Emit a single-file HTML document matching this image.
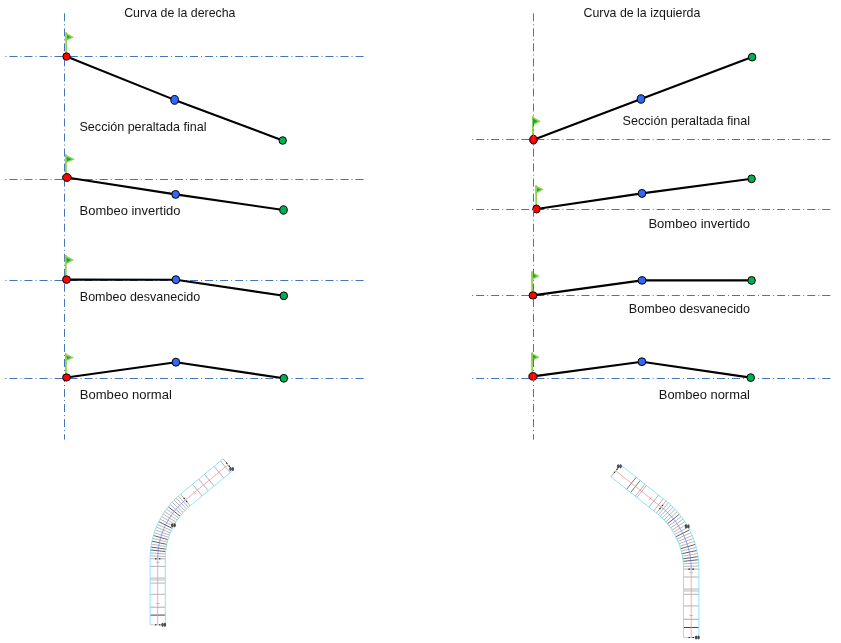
<!DOCTYPE html>
<html><head><meta charset="utf-8"><title>Peralte</title>
<style>
html,body{margin:0;padding:0;background:#fff;}
body{width:841px;height:643px;overflow:hidden;font-family:"Liberation Sans",sans-serif;}
svg{display:block;}
text{font-family:"Liberation Sans",sans-serif;fill:#151515;}
.tx{opacity:0.999;}
</style></head><body>
<svg width="841" height="643" viewBox="0 0 841 643">
<defs><filter id="bl" x="-5%" y="-5%" width="110%" height="110%"><feGaussianBlur stdDeviation="0.35"/></filter></defs>
<rect width="841" height="643" fill="#fff"/>
<line x1="64.5" y1="13.3" x2="64.5" y2="439.6" stroke="#4574BD" stroke-width="1" stroke-dasharray="8 3.01 1 3.02"/>
<line x1="363.6" y1="56.5" x2="5" y2="56.5" stroke="#4574BD" stroke-width="1" stroke-dasharray="8.03 3.01 1 3.01"/>
<line x1="363.6" y1="179.5" x2="5" y2="179.5" stroke="#4574BD" stroke-width="1" stroke-dasharray="8.03 3.01 1 3.01"/>
<line x1="363.6" y1="280.5" x2="5" y2="280.5" stroke="#4574BD" stroke-width="1" stroke-dasharray="8.03 3.01 1 3.01"/>
<line x1="363.6" y1="378.5" x2="5" y2="378.5" stroke="#4574BD" stroke-width="1" stroke-dasharray="8.03 3.01 1 3.01"/>
<rect x="65.30" y="32.30" width="1.8" height="24.20" fill="#92D050"/><path d="M65.30 32.30 L74.00 37.20 L65.30 41.20 Z" fill="#92D050"/><path d="M67.10 35.00 L70.90 37.20 L67.10 38.80 Z" fill="#00B050"/>
<polyline points="66.5,56.5 174.6,99.9 282.7,140.5" fill="none" stroke="#000" stroke-width="2.1" stroke-linejoin="round"/>
<ellipse cx="66.5" cy="56.5" rx="3.7" ry="3.7" fill="#FF0000" stroke="#000" stroke-width="1.0"/>
<ellipse cx="174.6" cy="99.9" rx="3.8" ry="4.4" fill="#3366FF" stroke="#000" stroke-width="1.0"/>
<ellipse cx="282.7" cy="140.5" rx="3.7" ry="3.8" fill="#00B050" stroke="#000" stroke-width="1.0"/>
<rect x="65.05" y="154.30" width="1.8" height="23.20" fill="#92D050"/><path d="M65.05 154.30 L74.90 159.20 L65.05 163.60 Z" fill="#92D050"/><path d="M66.85 157.00 L71.80 159.20 L66.85 161.20 Z" fill="#00B050"/>
<polyline points="66.9,177.5 175.6,194.4 283.5,210.0" fill="none" stroke="#000" stroke-width="2.1" stroke-linejoin="round"/>
<ellipse cx="66.9" cy="177.5" rx="4.35" ry="3.9000000000000004" fill="#FF0000" stroke="#000" stroke-width="1.0"/>
<ellipse cx="175.6" cy="194.4" rx="3.8499999999999996" ry="3.95" fill="#3366FF" stroke="#000" stroke-width="1.0"/>
<ellipse cx="283.5" cy="210.0" rx="3.75" ry="4.15" fill="#00B050" stroke="#000" stroke-width="1.0"/>
<rect x="64.90" y="255.10" width="1.8" height="24.50" fill="#92D050"/><path d="M64.90 255.10 L74.10 260.10 L64.90 264.80 Z" fill="#92D050"/><path d="M66.70 257.80 L71.00 260.10 L66.70 262.40 Z" fill="#00B050"/>
<polyline points="66.5,279.6 175.9,279.7 283.8,295.8" fill="none" stroke="#000" stroke-width="2.1" stroke-linejoin="round"/>
<ellipse cx="66.5" cy="279.6" rx="3.95" ry="3.8" fill="#FF0000" stroke="#000" stroke-width="1.0"/>
<ellipse cx="175.9" cy="279.7" rx="3.8" ry="4.0" fill="#3366FF" stroke="#000" stroke-width="1.0"/>
<ellipse cx="283.8" cy="295.8" rx="3.75" ry="3.9000000000000004" fill="#00B050" stroke="#000" stroke-width="1.0"/>
<rect x="65.00" y="353.20" width="1.8" height="24.25" fill="#92D050"/><path d="M65.00 353.20 L74.00 357.50 L65.00 361.70 Z" fill="#92D050"/><path d="M66.80 355.90 L70.90 357.50 L66.80 359.30 Z" fill="#00B050"/>
<polyline points="66.5,377.45 175.9,362.2 283.8,378.3" fill="none" stroke="#000" stroke-width="2.1" stroke-linejoin="round"/>
<ellipse cx="66.5" cy="377.45" rx="3.95" ry="3.5999999999999996" fill="#FF0000" stroke="#000" stroke-width="1.0"/>
<ellipse cx="175.9" cy="362.2" rx="3.8" ry="4.0" fill="#3366FF" stroke="#000" stroke-width="1.0"/>
<ellipse cx="283.8" cy="378.3" rx="3.75" ry="3.9000000000000004" fill="#00B050" stroke="#000" stroke-width="1.0"/>
<line x1="830.3" y1="139.5" x2="472" y2="139.5" stroke="#4574BD" stroke-width="1" stroke-dasharray="8.03 3.01 1 3.01"/>
<line x1="830.3" y1="209.5" x2="472" y2="209.5" stroke="#4574BD" stroke-width="1" stroke-dasharray="8.03 3.01 1 3.01"/>
<line x1="830.3" y1="295.5" x2="472" y2="295.5" stroke="#4574BD" stroke-width="1" stroke-dasharray="8.03 3.01 1 3.01"/>
<line x1="830.3" y1="378.5" x2="472" y2="378.5" stroke="#4574BD" stroke-width="1" stroke-dasharray="8.03 3.01 1 3.01"/>
<rect x="532.00" y="116.20" width="1.8" height="23.50" fill="#92D050"/><path d="M532.00 116.20 L540.90 121.30 L532.00 126.00 Z" fill="#92D050"/><path d="M533.80 118.90 L537.80 121.30 L533.80 123.60 Z" fill="#00B050"/>
<polyline points="533.5,139.7 641.0,99.0 752.1,57.1" fill="none" stroke="#000" stroke-width="2.1" stroke-linejoin="round"/>
<ellipse cx="533.5" cy="139.7" rx="3.8499999999999996" ry="4.4" fill="#FF0000" stroke="#000" stroke-width="1.0"/>
<ellipse cx="641.0" cy="99.0" rx="3.8" ry="4.2" fill="#3366FF" stroke="#000" stroke-width="1.0"/>
<ellipse cx="752.1" cy="57.1" rx="3.75" ry="3.9000000000000004" fill="#00B050" stroke="#000" stroke-width="1.0"/>
<rect x="535.30" y="185.30" width="1.8" height="23.70" fill="#92D050"/><path d="M535.30 185.30 L543.90 189.60 L535.30 194.10 Z" fill="#92D050"/><path d="M537.10 188.00 L540.80 189.60 L537.10 191.70 Z" fill="#00B050"/>
<polyline points="536.5,209.0 642.0,193.4 751.6,178.8" fill="none" stroke="#000" stroke-width="2.1" stroke-linejoin="round"/>
<ellipse cx="536.5" cy="209.0" rx="3.7" ry="4.0" fill="#FF0000" stroke="#000" stroke-width="1.0"/>
<ellipse cx="642.0" cy="193.4" rx="3.8" ry="4.0" fill="#3366FF" stroke="#000" stroke-width="1.0"/>
<ellipse cx="751.6" cy="178.8" rx="3.75" ry="3.9000000000000004" fill="#00B050" stroke="#000" stroke-width="1.0"/>
<rect x="531.20" y="271.20" width="1.8" height="24.20" fill="#92D050"/><path d="M531.20 271.20 L539.70 276.30 L531.20 280.20 Z" fill="#92D050"/><path d="M533.00 273.90 L536.60 276.30 L533.00 277.80 Z" fill="#00B050"/>
<polyline points="533.0,295.4 642.0,280.4 751.6,280.4" fill="none" stroke="#000" stroke-width="2.1" stroke-linejoin="round"/>
<ellipse cx="533.0" cy="295.4" rx="4.0" ry="3.7" fill="#FF0000" stroke="#000" stroke-width="1.0"/>
<ellipse cx="642.0" cy="280.4" rx="4.0" ry="3.8" fill="#3366FF" stroke="#000" stroke-width="1.0"/>
<ellipse cx="751.6" cy="280.4" rx="3.75" ry="3.9000000000000004" fill="#00B050" stroke="#000" stroke-width="1.0"/>
<rect x="531.20" y="352.40" width="1.8" height="24.00" fill="#92D050"/><path d="M531.20 352.40 L539.70 357.30 L531.20 361.20 Z" fill="#92D050"/><path d="M533.00 355.10 L536.60 357.30 L533.00 358.80 Z" fill="#00B050"/>
<polyline points="533.0,376.4 641.9,361.7 750.7,377.6" fill="none" stroke="#000" stroke-width="2.1" stroke-linejoin="round"/>
<ellipse cx="533.0" cy="376.4" rx="4.15" ry="3.7" fill="#FF0000" stroke="#000" stroke-width="1.0"/>
<ellipse cx="641.9" cy="361.7" rx="3.9000000000000004" ry="3.9000000000000004" fill="#3366FF" stroke="#000" stroke-width="1.0"/>
<ellipse cx="750.7" cy="377.6" rx="3.75" ry="3.9000000000000004" fill="#00B050" stroke="#000" stroke-width="1.0"/>
<line x1="533.5" y1="13.3" x2="533.5" y2="439.6" stroke="#4574BD" stroke-width="1" stroke-dasharray="8 3.01 1 3.02"/>
<g class="tx">
<text x="124.2" y="16.7" font-size="12.6" textLength="111.3" lengthAdjust="spacingAndGlyphs" text-anchor="start">Curva de la derecha</text>
<text x="79.5" y="130.5" font-size="12.6" textLength="127" lengthAdjust="spacingAndGlyphs" text-anchor="start">Sección peraltada final</text>
<text x="79.6" y="215" font-size="12.6" textLength="100.9" lengthAdjust="spacingAndGlyphs" text-anchor="start">Bombeo invertido</text>
<text x="79.8" y="300.8" font-size="12.6" textLength="120.4" lengthAdjust="spacingAndGlyphs" text-anchor="start">Bombeo desvanecido</text>
<text x="79.8" y="398.7" font-size="12.6" textLength="92.1" lengthAdjust="spacingAndGlyphs" text-anchor="start">Bombeo normal</text>
<text x="583.5" y="16.9" font-size="12.6" textLength="116.8" lengthAdjust="spacingAndGlyphs" text-anchor="start">Curva de la izquierda</text>
<text x="622.6" y="124.8" font-size="12.6" textLength="127.4" lengthAdjust="spacingAndGlyphs" text-anchor="start">Sección peraltada final</text>
<text x="648.4" y="227.7" font-size="12.6" textLength="101.6" lengthAdjust="spacingAndGlyphs" text-anchor="start">Bombeo invertido</text>
<text x="628.8" y="313.4" font-size="12.6" textLength="121.2" lengthAdjust="spacingAndGlyphs" text-anchor="start">Bombeo desvanecido</text>
<text x="658.8" y="398.5" font-size="12.6" textLength="91.2" lengthAdjust="spacingAndGlyphs" text-anchor="start">Bombeo normal</text>
</g>
<g filter="url(#bl)">
<line x1="150.10" y1="566.40" x2="165.30" y2="566.40" stroke="#686868" stroke-width="0.5"/>
<line x1="150.10" y1="577.60" x2="165.30" y2="577.60" stroke="#b5b5b5" stroke-width="0.5"/>
<line x1="150.10" y1="578.50" x2="165.30" y2="578.50" stroke="#b5b5b5" stroke-width="0.5"/>
<line x1="150.10" y1="579.40" x2="165.30" y2="579.40" stroke="#b5b5b5" stroke-width="0.5"/>
<line x1="150.10" y1="580.30" x2="165.30" y2="580.30" stroke="#b5b5b5" stroke-width="0.5"/>
<line x1="150.10" y1="583.10" x2="165.30" y2="583.10" stroke="#686868" stroke-width="0.5"/>
<line x1="150.10" y1="594.30" x2="165.30" y2="594.30" stroke="#686868" stroke-width="0.5"/>
<line x1="150.10" y1="607.20" x2="165.30" y2="607.20" stroke="#686868" stroke-width="0.55"/>
<line x1="150.10" y1="615.10" x2="165.30" y2="615.10" stroke="#444" stroke-width="1.0"/>
<line x1="155.80" y1="562.30" x2="159.60" y2="562.30" stroke="#888" stroke-width="0.5"/>
<line x1="155.80" y1="603.60" x2="159.60" y2="603.60" stroke="#888" stroke-width="0.5"/>
<line x1="150.10" y1="558.80" x2="165.30" y2="558.80" stroke="#666" stroke-width="0.5"/>
<line x1="150.10" y1="624.80" x2="165.30" y2="624.80" stroke="#999" stroke-width="0.5"/>
<line x1="150.15" y1="555.84" x2="165.34" y2="556.38" stroke="#858585" stroke-width="0.6"/>
<line x1="150.31" y1="552.89" x2="165.47" y2="553.96" stroke="#858585" stroke-width="0.6"/>
<line x1="150.57" y1="549.95" x2="165.68" y2="551.55" stroke="#444" stroke-width="0.85"/>
<line x1="150.93" y1="547.02" x2="165.98" y2="549.15" stroke="#444" stroke-width="0.85"/>
<line x1="151.40" y1="544.10" x2="166.36" y2="546.76" stroke="#858585" stroke-width="0.6"/>
<line x1="151.96" y1="541.20" x2="166.83" y2="544.38" stroke="#444" stroke-width="0.85"/>
<line x1="152.64" y1="538.32" x2="167.38" y2="542.03" stroke="#858585" stroke-width="0.6"/>
<line x1="153.41" y1="535.47" x2="168.01" y2="539.69" stroke="#444" stroke-width="0.85"/>
<line x1="154.28" y1="532.64" x2="168.72" y2="537.38" stroke="#858585" stroke-width="0.6"/>
<line x1="155.25" y1="529.85" x2="169.52" y2="535.09" stroke="#858585" stroke-width="0.6"/>
<line x1="156.31" y1="527.09" x2="170.39" y2="532.83" stroke="#858585" stroke-width="0.6"/>
<line x1="157.48" y1="524.38" x2="171.34" y2="530.61" stroke="#858585" stroke-width="0.6"/>
<line x1="158.74" y1="521.70" x2="172.37" y2="528.42" stroke="#444" stroke-width="0.85"/>
<line x1="160.09" y1="519.07" x2="173.48" y2="526.26" stroke="#858585" stroke-width="0.6"/>
<line x1="161.53" y1="516.50" x2="174.66" y2="524.15" stroke="#858585" stroke-width="0.6"/>
<line x1="163.06" y1="513.97" x2="175.92" y2="522.08" stroke="#858585" stroke-width="0.6"/>
<line x1="164.68" y1="511.50" x2="177.25" y2="520.06" stroke="#858585" stroke-width="0.6"/>
<line x1="166.39" y1="509.09" x2="178.64" y2="518.08" stroke="#858585" stroke-width="0.6"/>
<line x1="168.18" y1="506.73" x2="180.11" y2="516.16" stroke="#444" stroke-width="0.85"/>
<line x1="170.05" y1="504.45" x2="181.64" y2="514.28" stroke="#858585" stroke-width="0.6"/>
<line x1="172.01" y1="502.23" x2="183.24" y2="512.46" stroke="#858585" stroke-width="0.6"/>
<line x1="174.04" y1="500.08" x2="184.90" y2="510.70" stroke="#858585" stroke-width="0.6"/>
<line x1="176.14" y1="498.00" x2="186.63" y2="509.00" stroke="#858585" stroke-width="0.6"/>
<line x1="178.31" y1="496.00" x2="188.41" y2="507.36" stroke="#858585" stroke-width="0.6"/>
<line x1="180.56" y1="494.08" x2="190.25" y2="505.79" stroke="#666" stroke-width="0.5"/>
<line x1="192.50" y1="484.20" x2="202.19" y2="495.91" stroke="#686868" stroke-width="0.5"/>
<line x1="198.66" y1="479.10" x2="208.35" y2="490.81" stroke="#686868" stroke-width="0.5"/>
<line x1="204.44" y1="474.32" x2="214.13" y2="486.03" stroke="#686868" stroke-width="0.5"/>
<line x1="214.07" y1="466.35" x2="223.76" y2="478.06" stroke="#686868" stroke-width="0.5"/>
<line x1="220.55" y1="460.99" x2="230.23" y2="472.71" stroke="#686868" stroke-width="0.5"/>
<line x1="193.20" y1="491.01" x2="195.63" y2="493.94" stroke="#888" stroke-width="0.5"/>
<line x1="223.17" y1="458.83" x2="232.85" y2="470.54" stroke="#666" stroke-width="0.55"/>
<polyline points="150.10,624.80 150.10,558.80 150.14,556.34 150.24,553.88 150.42,551.42 150.68,548.97 151.00,546.53 151.40,544.10 151.86,541.68 152.40,539.28 153.01,536.89 153.69,534.52 154.43,532.17 155.25,529.85 156.13,527.55 157.08,525.28 158.09,523.03 159.18,520.82 160.32,518.64 161.53,516.50 162.80,514.39 164.13,512.32 165.53,510.28 166.98,508.29 168.49,506.35 170.05,504.45 171.68,502.59 173.35,500.79 175.08,499.03 176.86,497.33 178.68,495.67 180.56,494.08 223.17,458.83" fill="none" stroke="#8AE0FA" stroke-width="0.95"/>
<polyline points="165.30,624.80 165.30,558.80 165.33,556.78 165.42,554.77 165.57,552.76 165.77,550.75 166.04,548.75 166.36,546.76 166.74,544.78 167.18,542.81 167.68,540.85 168.24,538.91 168.85,536.99 169.52,535.09 170.24,533.21 171.02,531.34 171.85,529.51 172.73,527.69 173.67,525.91 174.66,524.15 175.70,522.42 176.80,520.73 177.94,519.06 179.12,517.43 180.36,515.84 181.64,514.28 182.97,512.76 184.34,511.28 185.76,509.85 187.21,508.45 188.71,507.10 190.25,505.79 232.85,470.54" fill="none" stroke="#8AE0FA" stroke-width="0.95"/>
<line x1="157.70" y1="624.80" x2="157.70" y2="558.80" stroke="#F58A8A" stroke-width="0.7"/>
<polyline points="157.70,558.80 157.73,556.56 157.83,554.32 158.00,552.09 158.22,549.86 158.52,547.64 158.88,545.43 159.30,543.23 159.79,541.04 160.34,538.87 160.96,536.72 161.64,534.58 162.38,532.47 163.18,530.38 164.05,528.31 164.97,526.27 165.95,524.26 167.00,522.27 168.10,520.32 169.25,518.40 170.46,516.52 171.73,514.67 173.05,512.86 174.43,511.09 175.85,509.36 177.32,507.68 178.85,506.04 180.42,504.44 182.03,502.89 183.70,501.39 185.40,499.93" fill="none" stroke="#7878F2" stroke-width="0.7"/>
<line x1="185.40" y1="499.93" x2="228.01" y2="464.68" stroke="#F58A8A" stroke-width="0.7"/>
<line x1="154.96" y1="558.80" x2="156.48" y2="558.80" stroke="#222" stroke-width="1.1"/>
<line x1="158.92" y1="558.80" x2="160.44" y2="558.80" stroke="#222" stroke-width="1.1"/>
<line x1="183.66" y1="497.82" x2="184.63" y2="499.00" stroke="#222" stroke-width="1.1"/>
<line x1="186.18" y1="500.87" x2="187.14" y2="502.04" stroke="#222" stroke-width="1.1"/>
<line x1="154.96" y1="624.80" x2="156.48" y2="624.80" stroke="#222" stroke-width="1.1"/>
<line x1="158.92" y1="624.80" x2="160.44" y2="624.80" stroke="#222" stroke-width="1.1"/>
<line x1="226.27" y1="462.58" x2="227.24" y2="463.75" stroke="#222" stroke-width="1.1"/>
<line x1="228.79" y1="465.62" x2="229.75" y2="466.79" stroke="#222" stroke-width="1.1"/>
<ellipse cx="162.55" cy="624.80" rx="1.25" ry="2.1" fill="#333" opacity="0.85"/><ellipse cx="164.95" cy="624.80" rx="1.25" ry="2.1" fill="#333" opacity="0.85"/>
<ellipse cx="172.27" cy="525.33" rx="1.25" ry="2.1" fill="#333" opacity="0.85"/><ellipse cx="174.67" cy="525.33" rx="1.25" ry="2.1" fill="#333" opacity="0.85"/>
<ellipse cx="230.43" cy="469.00" rx="1.25" ry="2.1" fill="#333" opacity="0.85"/><ellipse cx="232.83" cy="469.00" rx="1.25" ry="2.1" fill="#333" opacity="0.85"/>
</g>
<g filter="url(#bl)">
<line x1="698.90" y1="576.98" x2="683.50" y2="576.98" stroke="#686868" stroke-width="0.5"/>
<line x1="698.90" y1="588.60" x2="683.50" y2="588.60" stroke="#b5b5b5" stroke-width="0.5"/>
<line x1="698.90" y1="589.53" x2="683.50" y2="589.53" stroke="#b5b5b5" stroke-width="0.5"/>
<line x1="698.90" y1="590.46" x2="683.50" y2="590.46" stroke="#b5b5b5" stroke-width="0.5"/>
<line x1="698.90" y1="591.40" x2="683.50" y2="591.40" stroke="#b5b5b5" stroke-width="0.5"/>
<line x1="698.90" y1="594.30" x2="683.50" y2="594.30" stroke="#686868" stroke-width="0.5"/>
<line x1="698.90" y1="605.91" x2="683.50" y2="605.91" stroke="#686868" stroke-width="0.5"/>
<line x1="698.90" y1="619.29" x2="683.50" y2="619.29" stroke="#686868" stroke-width="0.55"/>
<line x1="698.90" y1="627.48" x2="683.50" y2="627.48" stroke="#444" stroke-width="1.0"/>
<line x1="693.12" y1="572.73" x2="689.28" y2="572.73" stroke="#888" stroke-width="0.5"/>
<line x1="693.12" y1="615.56" x2="689.28" y2="615.56" stroke="#888" stroke-width="0.5"/>
<line x1="698.90" y1="569.10" x2="683.50" y2="569.10" stroke="#666" stroke-width="0.5"/>
<line x1="698.90" y1="637.50" x2="683.50" y2="637.50" stroke="#999" stroke-width="0.5"/>
<line x1="698.84" y1="565.97" x2="683.45" y2="566.52" stroke="#858585" stroke-width="0.6"/>
<line x1="698.67" y1="562.84" x2="683.31" y2="563.95" stroke="#858585" stroke-width="0.6"/>
<line x1="698.39" y1="559.72" x2="683.08" y2="561.38" stroke="#444" stroke-width="0.85"/>
<line x1="698.00" y1="556.62" x2="682.76" y2="558.82" stroke="#444" stroke-width="0.85"/>
<line x1="697.50" y1="553.53" x2="682.34" y2="556.28" stroke="#858585" stroke-width="0.6"/>
<line x1="696.88" y1="550.46" x2="681.84" y2="553.75" stroke="#444" stroke-width="0.85"/>
<line x1="696.16" y1="547.41" x2="681.24" y2="551.24" stroke="#858585" stroke-width="0.6"/>
<line x1="695.32" y1="544.39" x2="680.55" y2="548.76" stroke="#444" stroke-width="0.85"/>
<line x1="694.38" y1="541.41" x2="679.78" y2="546.30" stroke="#858585" stroke-width="0.6"/>
<line x1="693.33" y1="538.45" x2="678.92" y2="543.87" stroke="#858585" stroke-width="0.6"/>
<line x1="692.18" y1="535.54" x2="677.97" y2="541.48" stroke="#858585" stroke-width="0.6"/>
<line x1="690.92" y1="532.68" x2="676.93" y2="539.12" stroke="#858585" stroke-width="0.6"/>
<line x1="689.56" y1="529.86" x2="675.81" y2="536.79" stroke="#444" stroke-width="0.85"/>
<line x1="688.10" y1="527.09" x2="674.61" y2="534.51" stroke="#858585" stroke-width="0.6"/>
<line x1="686.54" y1="524.37" x2="673.32" y2="532.28" stroke="#858585" stroke-width="0.6"/>
<line x1="684.88" y1="521.71" x2="671.96" y2="530.09" stroke="#858585" stroke-width="0.6"/>
<line x1="683.13" y1="519.12" x2="670.52" y2="527.95" stroke="#858585" stroke-width="0.6"/>
<line x1="681.29" y1="516.58" x2="669.00" y2="525.87" stroke="#858585" stroke-width="0.6"/>
<line x1="679.36" y1="514.12" x2="667.41" y2="523.84" stroke="#444" stroke-width="0.85"/>
<line x1="677.34" y1="511.73" x2="665.75" y2="521.87" stroke="#858585" stroke-width="0.6"/>
<line x1="675.23" y1="509.41" x2="664.02" y2="519.96" stroke="#858585" stroke-width="0.6"/>
<line x1="673.04" y1="507.17" x2="662.22" y2="518.12" stroke="#858585" stroke-width="0.6"/>
<line x1="670.78" y1="505.01" x2="660.35" y2="516.34" stroke="#858585" stroke-width="0.6"/>
<line x1="668.44" y1="502.93" x2="658.42" y2="514.63" stroke="#858585" stroke-width="0.6"/>
<line x1="666.02" y1="500.93" x2="656.43" y2="512.99" stroke="#666" stroke-width="0.5"/>
<line x1="663.36" y1="498.82" x2="653.77" y2="510.87" stroke="#686868" stroke-width="0.5"/>
<line x1="658.59" y1="495.02" x2="649.00" y2="507.07" stroke="#686868" stroke-width="0.5"/>
<line x1="646.46" y1="485.37" x2="636.87" y2="497.42" stroke="#686868" stroke-width="0.5"/>
<line x1="644.89" y1="484.13" x2="635.30" y2="496.18" stroke="#686868" stroke-width="0.5"/>
<line x1="640.27" y1="480.45" x2="630.69" y2="492.51" stroke="#666" stroke-width="0.9"/>
<line x1="636.20" y1="477.22" x2="626.62" y2="489.27" stroke="#666" stroke-width="0.9"/>
<line x1="651.47" y1="496.74" x2="649.07" y2="499.75" stroke="#888" stroke-width="0.5"/>
<line x1="620.55" y1="464.77" x2="610.96" y2="476.82" stroke="#666" stroke-width="0.55"/>
<polyline points="698.90,637.50 698.90,569.10 698.86,566.49 698.74,563.88 698.55,561.28 698.28,558.69 697.92,556.10 697.50,553.53 696.99,550.97 696.41,548.42 695.75,545.90 695.02,543.39 694.21,540.91 693.33,538.45 692.38,536.03 691.35,533.63 690.25,531.26 689.08,528.93 687.84,526.63 686.54,524.37 685.16,522.15 683.72,519.98 682.22,517.84 680.65,515.76 679.02,513.72 677.34,511.73 675.59,509.79 673.78,507.91 671.92,506.08 670.01,504.30 668.04,502.59 666.02,500.93 620.55,464.77" fill="none" stroke="#8AE0FA" stroke-width="0.95"/>
<polyline points="683.50,637.50 683.50,569.10 683.47,566.95 683.37,564.81 683.21,562.66 682.99,560.53 682.70,558.40 682.34,556.28 681.93,554.17 681.45,552.08 680.91,550.00 680.31,547.94 679.64,545.89 678.92,543.87 678.13,541.87 677.28,539.90 676.38,537.95 675.42,536.03 674.40,534.14 673.32,532.28 672.19,530.45 671.01,528.66 669.77,526.91 668.48,525.19 667.14,523.51 665.75,521.87 664.31,520.28 662.82,518.73 661.29,517.22 659.71,515.76 658.10,514.35 656.43,512.99 610.96,476.82" fill="none" stroke="#8AE0FA" stroke-width="0.95"/>
<line x1="691.20" y1="637.50" x2="691.20" y2="569.10" stroke="#F58A8A" stroke-width="0.7"/>
<polyline points="691.20,569.10 691.16,566.72 691.06,564.34 690.88,561.97 690.63,559.61 690.31,557.25 689.92,554.90 689.46,552.57 688.93,550.25 688.33,547.95 687.66,545.66 686.93,543.40 686.12,541.16 685.25,538.95 684.32,536.76 683.32,534.61 682.25,532.48 681.12,530.38 679.93,528.32 678.68,526.30 677.37,524.32 676.00,522.37 674.57,520.47 673.08,518.61 671.54,516.80 669.95,515.03 668.30,513.32 666.61,511.65 664.86,510.03 663.07,508.47 661.23,506.96" fill="none" stroke="#7878F2" stroke-width="0.7"/>
<line x1="661.23" y1="506.96" x2="615.76" y2="470.79" stroke="#F58A8A" stroke-width="0.7"/>
<line x1="693.97" y1="569.10" x2="692.43" y2="569.10" stroke="#222" stroke-width="1.1"/>
<line x1="689.97" y1="569.10" x2="688.43" y2="569.10" stroke="#222" stroke-width="1.1"/>
<line x1="662.95" y1="504.79" x2="661.99" y2="506.00" stroke="#222" stroke-width="1.1"/>
<line x1="660.46" y1="507.93" x2="659.50" y2="509.13" stroke="#222" stroke-width="1.1"/>
<line x1="693.97" y1="637.50" x2="692.43" y2="637.50" stroke="#222" stroke-width="1.1"/>
<line x1="689.97" y1="637.50" x2="688.43" y2="637.50" stroke="#222" stroke-width="1.1"/>
<line x1="617.48" y1="468.62" x2="616.53" y2="469.83" stroke="#222" stroke-width="1.1"/>
<line x1="614.99" y1="471.76" x2="614.03" y2="472.96" stroke="#222" stroke-width="1.1"/>
<ellipse cx="696.15" cy="637.50" rx="1.25" ry="2.1" fill="#333" opacity="0.85"/><ellipse cx="698.55" cy="637.50" rx="1.25" ry="2.1" fill="#333" opacity="0.85"/>
<ellipse cx="686.02" cy="526.44" rx="1.25" ry="2.1" fill="#333" opacity="0.85"/><ellipse cx="688.42" cy="526.44" rx="1.25" ry="2.1" fill="#333" opacity="0.85"/>
<ellipse cx="618.16" cy="466.33" rx="1.25" ry="2.1" fill="#333" opacity="0.85"/><ellipse cx="620.56" cy="466.33" rx="1.25" ry="2.1" fill="#333" opacity="0.85"/>
</g>
</svg>
</body></html>
